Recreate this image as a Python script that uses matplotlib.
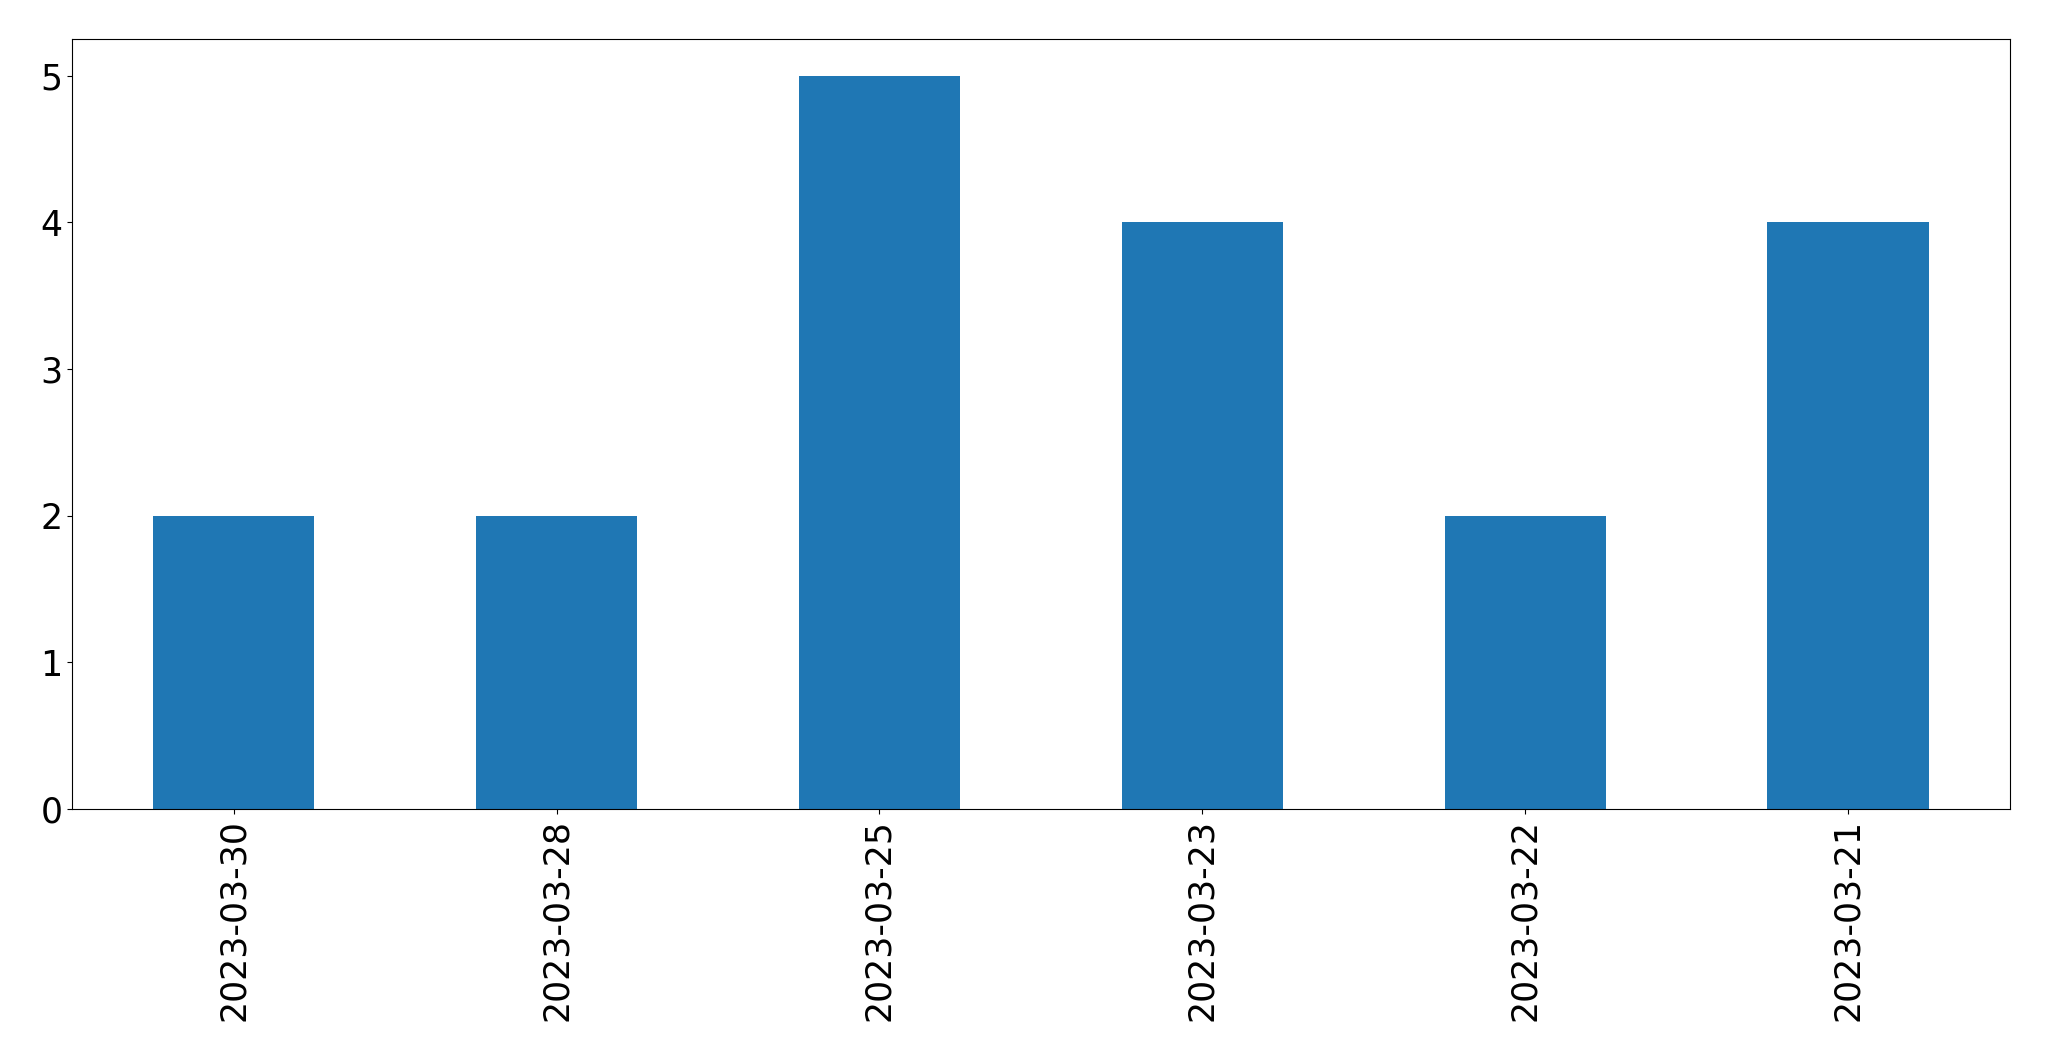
import matplotlib
matplotlib.use("Agg")
import matplotlib.pyplot as plt

dates = ["2023-03-30", "2023-03-28", "2023-03-25", "2023-03-23", "2023-03-22", "2023-03-21"]
counts = [2, 2, 5, 4, 2, 4]

fig, ax = plt.subplots(figsize=(20.49, 10.61), dpi=100)
fig.subplots_adjust(left=0.0352, right=0.9808, top=0.9633, bottom=0.2375)
x = list(range(len(dates)))
ax.bar(x, counts, width=0.5, color="#1f77b4")
ax.set_xticks(x)
ax.set_xticklabels(dates, rotation=90)
ax.set_xlim(-0.5, len(dates) - 0.5)
ax.tick_params(axis="both", labelsize=25)
fig.savefig("out.png", dpi=100)
